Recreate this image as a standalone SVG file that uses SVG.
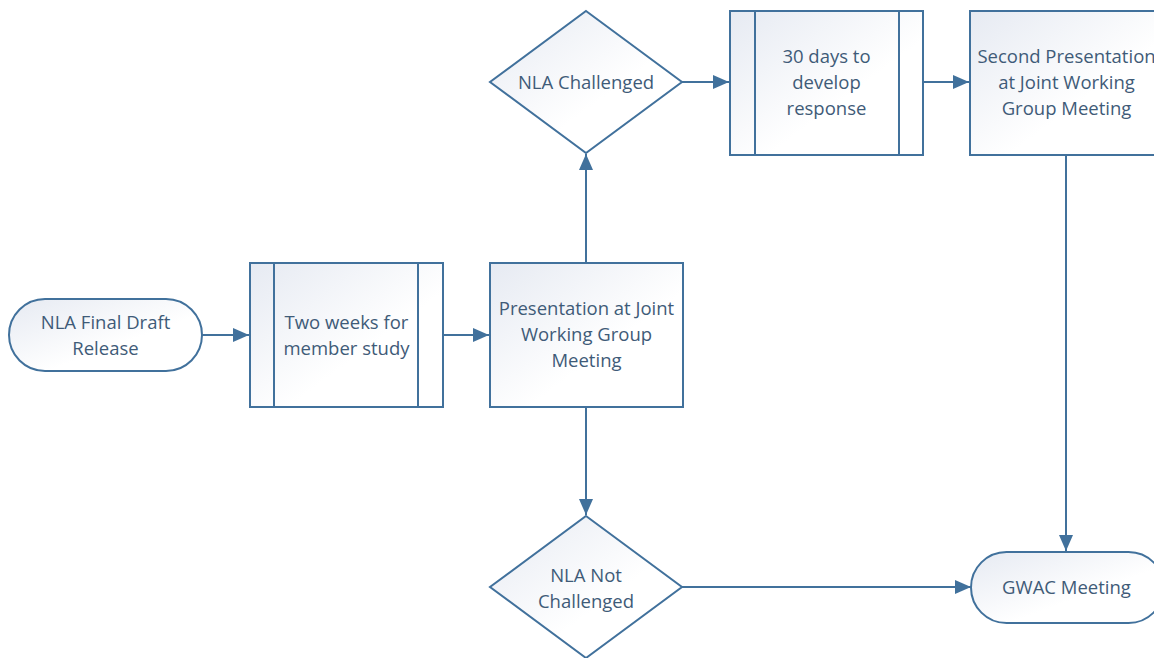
<svg xmlns="http://www.w3.org/2000/svg" width="1154" height="658" viewBox="0 0 1154 658">
<defs>
<linearGradient id="g" x1="0" y1="0" x2="1" y2="1">
<stop offset="0" stop-color="#E6EAF2"/>
<stop offset="0.6" stop-color="#FFFFFF"/>
</linearGradient>
<marker id="arr" viewBox="0 0 16 14" refX="16" refY="7" markerWidth="16" markerHeight="14" markerUnits="userSpaceOnUse" orient="auto">
<path d="M0,0 L16,7 L0,14 Z" fill="#41719C"/>
</marker>
<style>
.s{fill:url(#g);stroke:#41719C;stroke-width:2}
.l{fill:none;stroke:#41719C;stroke-width:2}
.c{fill:none;stroke:#41719C;stroke-width:2;marker-end:url(#arr)}
text{font-family:"Open Sans","Noto Sans",sans-serif;font-size:18.5px;fill:#3F5B78;text-anchor:middle}
</style>
</defs>
<rect width="1154" height="658" fill="#FFFFFF"/>
<g id="connectors">
<path class="c" d="M202,335 L249,335"/>
<path class="c" d="M443,335 L489,335"/>
<path class="c" d="M586,263 L586,154"/>
<path class="c" d="M586,407 L586,515"/>
<path class="c" d="M682,82 L729,82"/>
<path class="c" d="M923,82 L969,82"/>
<path class="c" d="M1066,155 L1066,551"/>
<path class="c" d="M682,587 L971,587"/>
</g>
<g id="start">
<rect class="s" x="9" y="299" width="193" height="72" rx="36" ry="36"/>
<text x="105.5" y="329">NLA Final Draft</text>
<text x="105.5" y="355">Release</text>
</g>
<g id="study">
<rect class="s" x="250" y="263" width="193" height="144"/>
<path class="l" d="M274,263 V407 M418,263 V407"/>
<text x="346.5" y="329">Two weeks for</text>
<text x="346.5" y="355">member study</text>
</g>
<g id="presentation">
<rect class="s" x="490" y="263" width="193" height="144"/>
<text x="586.5" y="315">Presentation at Joint</text>
<text x="586.5" y="341">Working Group</text>
<text x="586.5" y="367">Meeting</text>
</g>
<g id="challenged">
<path class="s" d="M586,11 L682,82 L586,153 L490,82 Z"/>
<text x="586" y="89">NLA Challenged</text>
</g>
<g id="notchallenged">
<path class="s" d="M586,516 L682,587 L586,658 L490,587 Z"/>
<text x="586" y="582">NLA Not</text>
<text x="586" y="608">Challenged</text>
</g>
<g id="response">
<rect class="s" x="730" y="11" width="193" height="144"/>
<path class="l" d="M755,11 V155 M899,11 V155"/>
<text x="826.5" y="63">30 days to</text>
<text x="826.5" y="89">develop</text>
<text x="826.5" y="115">response</text>
</g>
<g id="second">
<rect class="s" x="970" y="11" width="193" height="144"/>
<text x="1066.5" y="63">Second Presentation</text>
<text x="1066.5" y="89">at Joint Working</text>
<text x="1066.5" y="115">Group Meeting</text>
</g>
<g id="gwac">
<rect class="s" x="971" y="552" width="193" height="71" rx="35.5" ry="35.5"/>
<text x="1066.5" y="594">GWAC Meeting</text>
</g>
</svg>
